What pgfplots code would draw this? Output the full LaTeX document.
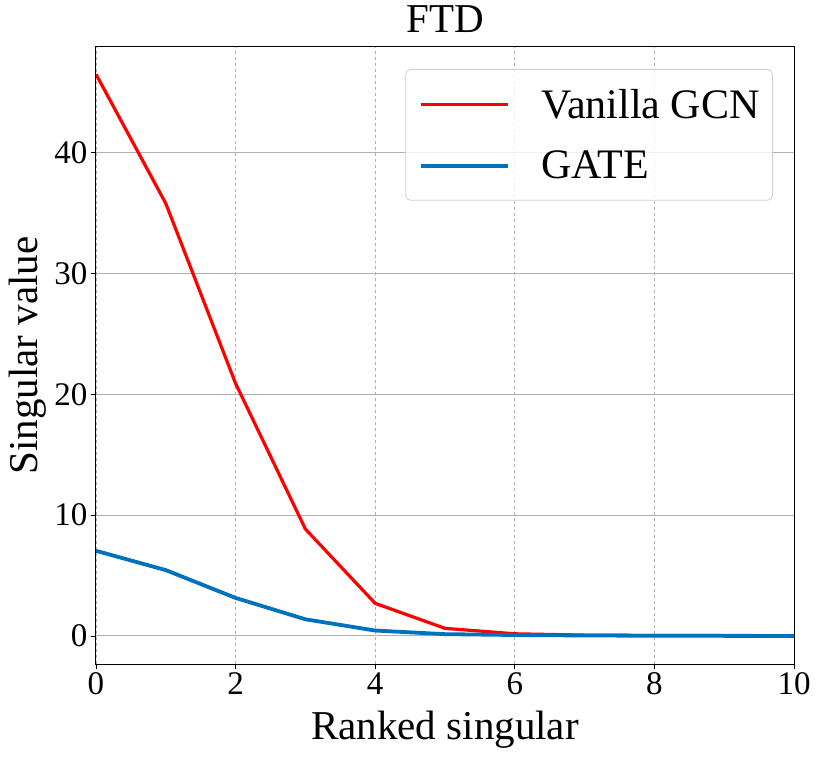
\documentclass[border=0pt]{standalone}
\usepackage{fontspec}
\setmainfont{Liberation Serif}
\newfontfamily\tnr{Liberation Serif}
\usepackage{pgfplots}
\pgfplotsset{compat=1.18}
\definecolor{gcnred}{RGB}{255,0,0}
\definecolor{gateblue}{RGB}{0,114,189}
\definecolor{gridgray}{RGB}{176,176,176}
\begin{document}
\begin{tikzpicture}[font=\tnr]
\begin{axis}[
  scale only axis,
  width=698bp, height=617bp,
  xmin=0, xmax=10, ymin=-2.32, ymax=48.75,
  xtick={0,2,4,6,8,10},
  ytick={0,10,20,30,40},
  tick align=outside,
  major tick length=5bp,
  tick style={black, line width=0.8bp},
  axis line style={black, line width=1bp},
  xtick pos=bottom, ytick pos=left,
  /pgf/number format/assume math mode=true,
  ticklabel style={font=\tnr\fontsize{33bp}{36bp}\selectfont},
  xmajorgrids, ymajorgrids,
  x grid style={gridgray, dashed, line width=0.8bp},
  y grid style={gridgray, line width=1bp},
  title={FTD},
  title style={font=\tnr\fontsize{41bp}{44bp}\selectfont, at={(axis description cs:0.5,1.013)}, anchor=base, inner sep=0pt},
  xlabel={Ranked singular},
  xlabel style={font=\tnr\fontsize{41bp}{44bp}\selectfont, at={(axis description cs:0.5,-0.1216)}, anchor=base, inner sep=0pt},
  ylabel={Singular value},
  ylabel style={font=\tnr\fontsize{41bp}{44bp}\selectfont, at={(axis description cs:-0.0845,0.5)}, anchor=base, rotate=0, inner sep=0pt},
  legend cell align=left,
  legend image code/.code={\draw[#1] (0bp,0bp) -- (87bp,0bp);},
  legend style={
    at={(axis description cs:1,1)}, anchor=north east,
    xshift=-21bp, yshift=-22bp,
    draw=gridgray!60, rounded corners=5bp, line width=0.8bp,
    fill=white, fill opacity=0.8, text opacity=1,
    font=\tnr\fontsize{42bp}{44bp}\selectfont,
    inner xsep=13bp, inner ysep=20bp,
    row sep=31bp, column sep=32bp,
    nodes={inner sep=0pt, anchor=west},
  },
]
\coordinate (SW) at (rel axis cs:0,0);
\addplot[gcnred, line width=3.2bp] coordinates {
  (0,46.5) (1,35.8) (2,20.9) (3,8.85) (4,2.7) (5,0.63) (6,0.18) (7,0.07) (8,0.04) (9,0.03) (10,0.02)
};
\addlegendentry{Vanilla GCN}
\addplot[gateblue, line width=3.8bp] coordinates {
  (0,7.05) (1,5.45) (2,3.15) (3,1.38) (4,0.45) (5,0.15) (6,0.08) (7,0.04) (8,0.02) (9,0.01) (10,0.0)
};
\addlegendentry{GATE}
\end{axis}
\pgfresetboundingbox
\path[use as bounding box] (SW) ++(-96bp,-94bp) rectangle ++(821bp,758bp);
\end{tikzpicture}
\end{document}
